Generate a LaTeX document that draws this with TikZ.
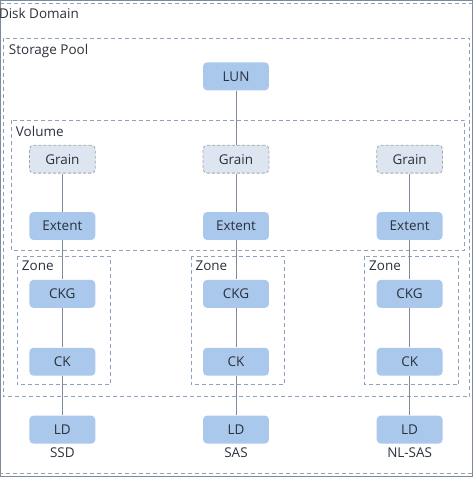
\documentclass[tikz,border=0pt]{standalone}
\usepackage{fontspec}
\setmainfont{Open Sans}
\usetikzlibrary{positioning}

\definecolor{boxblue}{HTML}{A9C8EC}
\definecolor{grainfill}{HTML}{DCE5F0}
\definecolor{linegray}{HTML}{7D8A99}
\definecolor{dashgray}{HTML}{8FA2BC}
\definecolor{txt}{HTML}{2B313A}

\begin{document}
\begin{tikzpicture}[x=1pt,y=-1pt,
            font=\fontsize{13.5}{15}\selectfont,
            every node/.style={text=txt},
            unit/.style={fill=boxblue,rounded corners=4pt,minimum width=66pt,minimum height=28pt,inner sep=0pt,node distance=68pt},
            grain/.style={unit,fill=grainfill,draw=gray!70,dashed,dash pattern=on 3pt off 2pt,line width=.8pt},
            area/.style={draw=dashgray,dash pattern=on 4pt off 3pt,line width=.8pt},
            lab/.style={anchor=west,inner sep=0pt},
            every path/.style={draw=linegray,line width=1pt}
          ]
          \useasboundingbox (0,0) rectangle (473,477);

          %areas
          \draw[area] (-6,3) rectangle (480,474);
          \draw[area] (3,38) rectangle (470,397);
          \draw[area] (11,120) rectangle (465,250);
          \draw[area] (17,256) rectangle (110,385);
          \draw[area] (191,256) rectangle (284,385);
          \draw[area] (365,256) rectangle (459,385);

          %labels
          \node[lab] at (-2,13) {Disk Domain};
          \node[lab] at (8,51) {Storage Pool};
          \node[lab] at (15,131) {Volume};
          \node[lab] at (21,266) {Zone};
          \node[lab] at (195,266) {Zone};
          \node[lab] at (369,266) {Zone};

          %top
          \node[unit] (lun) at (236,76) {LUN};

          %columns
          \node[grain] (g1) at (62,159) {Grain};
          \node[grain] (g2) at (236,159) {Grain};
          \node[grain] (g3) at (410,159) {Grain};
          \foreach \c in {1,2,3} {
            \node[unit,below of = g\c,node distance=67pt] (e\c) {Extent};
            \node[unit,below of = e\c] (ckg\c) {CKG};
            \node[unit,below of = ckg\c] (ck\c) {CK};
            \node[unit,below of = ck\c] (ld\c) {LD};
          }
          \node[below=1pt of ld1,inner sep=2pt] (t1) {SSD};
          \node[below=1pt of ld2,inner sep=2pt] (t2) {SAS};
          \node[below=1pt of ld3,inner sep=2pt] (t3) {NL-SAS};

          \path (lun) -- (g2);
          \foreach \c in {1,2,3} {
            \path (g\c) -- (e\c)
            (e\c) -- (ckg\c)
            (ckg\c) -- (ck\c)
            (ck\c) -- (ld\c);
          }
      \end{tikzpicture}
\end{document}
